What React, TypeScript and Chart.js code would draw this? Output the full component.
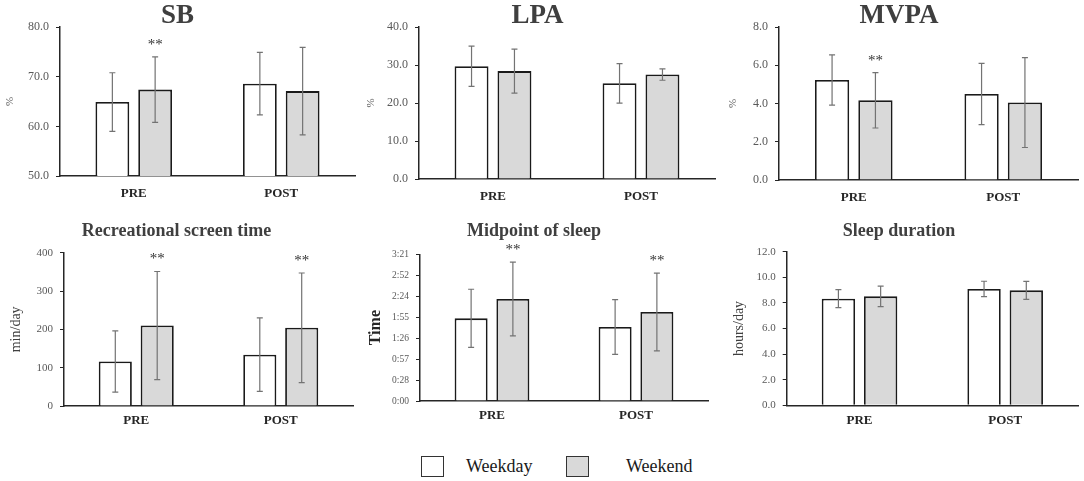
import React, { useEffect, useRef } from "react";
import { Chart, registerables, ChartConfiguration, Plugin } from "chart.js";

Chart.register(...registerables);

const SERIF = '"Times New Roman", "Liberation Serif", serif';

const CATEGORIES = ["PRE", "POST"];
const SERIES = ["Weekday", "Weekend"];

// means and SDs, [PRE, POST]
const SB_WEEKDAY = [64.9, 68.6];
const SB_WEEKEND = [67.4, 67.1];
const SB_WEEKDAY_SD = [5.9, 6.3];
const SB_WEEKEND_SD = [6.6, 8.8];
const SB_SIG = [true, false];

const LPA_WEEKDAY = [29.7, 25.2];
const LPA_WEEKEND = [28.4, 27.5];
const LPA_WEEKDAY_SD = [5.3, 5.2];
const LPA_WEEKEND_SD = [5.8, 1.5];
const LPA_SIG = [false, false];

const MVPA_WEEKDAY = [5.23, 4.5];
const MVPA_WEEKEND = [4.17, 4.05];
const MVPA_WEEKDAY_SD = [1.31, 1.6];
const MVPA_WEEKEND_SD = [1.45, 2.35];
const MVPA_SIG = [true, false];

const SCREEN_WEEKDAY = [116, 134];
const SCREEN_WEEKEND = [210, 204];
const SCREEN_WEEKDAY_SD = [80, 96];
const SCREEN_WEEKEND_SD = [141, 143];
const SCREEN_SIG = [true, true];

// minutes after midnight
const MIDPOINT_WEEKDAY = [113.6, 101.7];
const MIDPOINT_WEEKEND = [140.2, 122.3];
const MIDPOINT_WEEKDAY_SD = [40, 37.5];
const MIDPOINT_WEEKEND_SD = [50.7, 53.3];
const MIDPOINT_SIG = [true, true];
const MIDPOINT_TICKS = [0, 28.8, 57.6, 86.4, 115.2, 144, 172.8, 201.6];

const SLEEP_WEEKDAY = [8.33, 9.09];
const SLEEP_WEEKEND = [8.51, 8.98];
const SLEEP_WEEKDAY_SD = [0.7, 0.6];
const SLEEP_WEEKEND_SD = [0.8, 0.7];
const SLEEP_SIG = [false, false];

interface Panel {
  title: string;
  titleSize: number;
  titleLine: number;
  titleTop: number;
  titlePad: number;
  yTitle: string;
  yTitleSize: number;
  yTitleBold?: boolean;
  yTitleColor: string;
  yTitlePad: number;
  min: number;
  max: number;
  step?: number;
  fixedTicks?: number[];
  fmt: (v: number) => string;
  tickSize: number;
  weekday: number[];
  weekend: number[];
  weekdaySd: number[];
  weekendSd: number[];
  sig: boolean[];
  left: number;
  top: number;
  width: number;
  height: number;
  yWidth: number;
  xHeight: number;
  xPad: number;
}

const oneDec = (v: number) => v.toFixed(1);
const hm = (v: number) => {
  const m = Math.floor(v + 1e-6);
  return `${Math.floor(m / 60)}:${String(m % 60).padStart(2, "0")}`;
};

const PANELS: Panel[] = [
  {
    title: "SB", titleSize: 27, titleLine: 0.78, titleTop: 6, titlePad: 0,
    yTitle: "%", yTitleSize: 11, yTitleColor: "#595959", yTitlePad: 4,
    min: 50, max: 80, step: 10, fmt: oneDec, tickSize: 12,
    weekday: SB_WEEKDAY, weekend: SB_WEEKEND, weekdaySd: SB_WEEKDAY_SD, weekendSd: SB_WEEKEND_SD, sig: SB_SIG,
    left: 0, top: 0, width: 358, height: 210, yWidth: 60, xHeight: 34, xPad: 9.5,
  },
  {
    title: "LPA", titleSize: 27, titleLine: 0.78, titleTop: 6, titlePad: 0,
    yTitle: "%", yTitleSize: 11, yTitleColor: "#595959", yTitlePad: 5,
    min: 0, max: 40, step: 10, fmt: oneDec, tickSize: 12,
    weekday: LPA_WEEKDAY, weekend: LPA_WEEKEND, weekdaySd: LPA_WEEKDAY_SD, weekendSd: LPA_WEEKEND_SD, sig: LPA_SIG,
    left: 360, top: 0, width: 358, height: 210, yWidth: 59, xHeight: 31, xPad: 9.5,
  },
  {
    title: "MVPA", titleSize: 27, titleLine: 0.78, titleTop: 6, titlePad: 0,
    yTitle: "%", yTitleSize: 11, yTitleColor: "#595959", yTitlePad: 7,
    min: 0, max: 8, step: 2, fmt: oneDec, tickSize: 12,
    weekday: MVPA_WEEKDAY, weekend: MVPA_WEEKEND, weekdaySd: MVPA_WEEKDAY_SD, weekendSd: MVPA_WEEKEND_SD, sig: MVPA_SIG,
    left: 720, top: 0, width: 361, height: 210, yWidth: 59, xHeight: 30, xPad: 9.5,
  },
  {
    title: "Recreational screen time", titleSize: 18, titleLine: 1, titleTop: 0, titlePad: 12.7,
    yTitle: "min/day", yTitleSize: 14, yTitleColor: "#404040", yTitlePad: 8,
    min: 0, max: 400, step: 100, fmt: (v) => String(v), tickSize: 11,
    weekday: SCREEN_WEEKDAY, weekend: SCREEN_WEEKEND, weekdaySd: SCREEN_WEEKDAY_SD, weekendSd: SCREEN_WEEKEND_SD, sig: SCREEN_SIG,
    left: 0, top: 222, width: 356, height: 218, yWidth: 64, xHeight: 34, xPad: 7.2,
  },
  {
    title: "Midpoint of sleep", titleSize: 18, titleLine: 1, titleTop: 0, titlePad: 14.3,
    yTitle: "Time", yTitleSize: 16, yTitleBold: true, yTitleColor: "#262626", yTitlePad: 6,
    min: 0, max: 201.6, fixedTicks: MIDPOINT_TICKS, fmt: hm, tickSize: 9.5,
    weekday: MIDPOINT_WEEKDAY, weekend: MIDPOINT_WEEKEND, weekdaySd: MIDPOINT_WEEKDAY_SD, weekendSd: MIDPOINT_WEEKEND_SD, sig: MIDPOINT_SIG,
    left: 360, top: 222, width: 351, height: 218, yWidth: 60, xHeight: 39, xPad: 7,
  },
  {
    title: "Sleep duration", titleSize: 18, titleLine: 1, titleTop: 0, titlePad: 11.7,
    yTitle: "hours/day", yTitleSize: 14, yTitleColor: "#404040", yTitlePad: 11,
    min: 0, max: 12, step: 2, fmt: oneDec, tickSize: 11,
    weekday: SLEEP_WEEKDAY, weekend: SLEEP_WEEKEND, weekdaySd: SLEEP_WEEKDAY_SD, weekendSd: SLEEP_WEEKEND_SD, sig: SLEEP_SIG,
    left: 720, top: 222, width: 361, height: 218, yWidth: 66.7, xHeight: 34.7, xPad: 8,
  },
];

const AXIS = "#262626";

const errorBars = (sds: number[][], sig: boolean[]): Plugin<"bar"> => ({
  id: "errorBars",
  afterDatasetsDraw(chart) {
    const { ctx } = chart;
    const y = chart.scales.y;
    ctx.save();
    chart.data.datasets.forEach((ds, di) => {
      chart.getDatasetMeta(di).data.forEach((bar, i) => {
        const mean = ds.data[i] as number;
        const sd = sds[di][i];
        const top = y.getPixelForValue(mean + sd);
        const bot = y.getPixelForValue(mean - sd);
        ctx.strokeStyle = "#737373";
        ctx.lineWidth = 1.2;
        ctx.beginPath();
        ctx.moveTo(bar.x, top);
        ctx.lineTo(bar.x, bot);
        ctx.moveTo(bar.x - 3, top);
        ctx.lineTo(bar.x + 3, top);
        ctx.moveTo(bar.x - 3, bot);
        ctx.lineTo(bar.x + 3, bot);
        ctx.stroke();
        // significance marks sit over the weekend bars
        if (di === 1 && sig[i]) {
          ctx.fillStyle = "#333";
          ctx.font = `15px ${SERIF}`;
          ctx.textAlign = "center";
          ctx.textBaseline = "alphabetic";
          ctx.fillText("**", bar.x, top - 8);
        }
      });
    });
    ctx.restore();
  },
});

const BarPanel: React.FC<{ p: Panel }> = ({ p }) => {
  const canvasRef = useRef<HTMLCanvasElement>(null);
  const chartRef = useRef<Chart | null>(null);

  useEffect(() => {
    if (!canvasRef.current) return;
    if (chartRef.current) chartRef.current.destroy();

    const config: ChartConfiguration<"bar"> = {
      type: "bar",
      data: {
        labels: CATEGORIES,
        datasets: [
          {
            label: SERIES[0],
            data: p.weekday,
            backgroundColor: "#ffffff",
            borderColor: "#1a1a1a",
            borderWidth: 1.8,
            categoryPercentage: 0.58,
            barPercentage: 0.79,
          },
          {
            label: SERIES[1],
            data: p.weekend,
            backgroundColor: "#d9d9d9",
            borderColor: "#1a1a1a",
            borderWidth: 1.8,
            categoryPercentage: 0.58,
            barPercentage: 0.79,
          },
        ],
      },
      options: {
        responsive: false,
        animation: false,
        events: [],
        layout: { padding: { right: 3, left: 0, top: 0, bottom: 0 } },
        plugins: {
          legend: { display: false },
          tooltip: { enabled: false },
          title: {
            display: true,
            text: p.title,
            color: "#3f3f3f",
            font: { family: SERIF, size: p.titleSize, weight: "bold", lineHeight: p.titleLine },
            padding: { top: p.titleTop, bottom: p.titlePad },
          },
        },
        scales: {
          x: {
            grid: { display: false, drawTicks: false },
            border: { display: true, color: AXIS, width: 1.5 },
            ticks: {
              color: AXIS,
              padding: p.xPad,
              font: { family: SERIF, size: 13, weight: "bold" },
            },
            afterFit: (s) => {
              s.height = p.xHeight;
            },
          },
          y: {
            min: p.min,
            max: p.max,
            grid: { display: true, drawOnChartArea: false, drawTicks: true, tickLength: 4, color: AXIS },
            border: { display: true, color: AXIS, width: 1.5 },
            ticks: {
              stepSize: p.step,
              color: "#595959",
              padding: 7,
              font: { family: SERIF, size: p.tickSize },
              callback: (v) => p.fmt(Number(v)),
            },
            afterBuildTicks: (s) => {
              if (p.fixedTicks) s.ticks = p.fixedTicks.map((value) => ({ value }));
            },
            title: {
              display: true,
              text: p.yTitle,
              color: p.yTitleColor,
              padding: { top: p.yTitlePad, bottom: 0 },
              font: { family: SERIF, size: p.yTitleSize, weight: p.yTitleBold ? "bold" : "normal" },
            },
            afterFit: (s) => {
              s.width = p.yWidth;
            },
          },
        },
      },
      plugins: [errorBars([p.weekdaySd, p.weekendSd], p.sig)],
    };

    chartRef.current = new Chart(canvasRef.current, config);
    return () => {
      if (chartRef.current) {
        chartRef.current.destroy();
        chartRef.current = null;
      }
    };
  }, [p]);

  return (
    <canvas
      ref={canvasRef}
      width={p.width}
      height={p.height}
      style={{ position: "absolute", left: p.left, top: p.top }}
    />
  );
};

const legendBox = (left: number, fill: string): React.CSSProperties => ({
  position: "absolute",
  left,
  top: 456,
  width: 21,
  height: 19,
  border: "1.5px solid #333",
  background: fill,
});

const legendText = (left: number): React.CSSProperties => ({
  position: "absolute",
  left,
  top: 455,
  fontFamily: SERIF,
  fontSize: 18,
  lineHeight: "22px",
  color: "#1a1a1a",
});

export default function App() {
  return (
    <div
      style={{
        position: "absolute",
        left: 0,
        top: 0,
        width: 1084,
        height: 481,
        background: "#ffffff",
        overflow: "hidden",
      }}
    >
      {PANELS.map((p) => (
        <BarPanel key={p.title} p={p} />
      ))}
      <div style={legendBox(421, "#ffffff")} />
      <div style={legendText(466)}>{SERIES[0]}</div>
      <div style={legendBox(566, "#d9d9d9")} />
      <div style={legendText(626)}>{SERIES[1]}</div>
    </div>
  );
}
